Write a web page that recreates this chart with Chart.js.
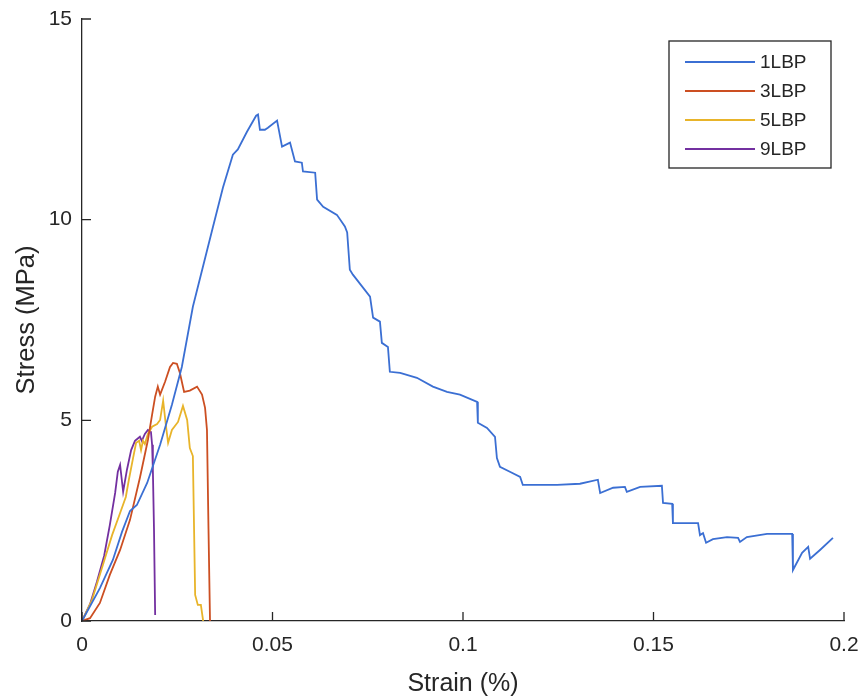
<!DOCTYPE html>
<html>
<head>
<meta charset="utf-8">
<script src="https://cdn.jsdelivr.net/npm/chart.js@4/dist/chart.umd.min.js"></script>
<style>
  html, body { margin:0; padding:0; background:#fff; }
  #wrap { width:860px; height:699px; position:relative; }
</style>
</head>
<body>
<div id="wrap"><canvas id="chart" width="860" height="699"></canvas></div>
<script>
// values
const labels = ['1LBP', '3LBP', '5LBP', '9LBP'];
const colors = ['#3b6fd3', '#cc4f22', '#e8b42a', '#7330a0'];

const strain1 = [0, 0.0047, 0.0081, 0.0105, 0.0126, 0.0144, 0.0171, 0.0205, 0.0236, 0.0262, 0.0291, 0.0344, 0.0370, 0.0396, 0.0409, 0.0433, 0.0457, 0.0462, 0.0467, 0.0480, 0.0488, 0.0512, 0.0525, 0.0546, 0.0559, 0.0577, 0.0580, 0.0612, 0.0617, 0.0633, 0.0669, 0.0690, 0.0696, 0.0703, 0.0711, 0.0756, 0.0764, 0.0782, 0.0787, 0.0803, 0.0808, 0.0835, 0.0879, 0.0921, 0.0958, 0.0992, 0.1037, 0.1039, 0.1063, 0.1084, 0.1089, 0.1097, 0.1123, 0.1150, 0.1157, 0.1247, 0.1307, 0.1354, 0.1360, 0.1394, 0.1425, 0.1430, 0.1465, 0.1522, 0.1525, 0.1549, 0.1551, 0.1617, 0.1622, 0.1630, 0.1638, 0.1656, 0.1693, 0.1722, 0.1727, 0.1745, 0.1798, 0.1864, 0.1866, 0.1890, 0.1906, 0.1911, 0.1937, 0.1971];
const stress1 = [0, 0.82, 1.52, 2.22, 2.74, 2.89, 3.44, 4.39, 5.39, 6.33, 7.83, 9.83, 10.80, 11.62, 11.75, 12.19, 12.59, 12.62, 12.24, 12.24, 12.29, 12.47, 11.82, 11.92, 11.45, 11.42, 11.20, 11.17, 10.50, 10.32, 10.12, 9.83, 9.68, 8.75, 8.63, 8.08, 7.56, 7.46, 6.93, 6.83, 6.21, 6.18, 6.06, 5.84, 5.71, 5.64, 5.46, 4.94, 4.81, 4.59, 4.06, 3.84, 3.72, 3.59, 3.39, 3.39, 3.42, 3.52, 3.19, 3.32, 3.34, 3.22, 3.34, 3.37, 2.94, 2.92, 2.44, 2.44, 2.14, 2.19, 1.95, 2.04, 2.09, 2.07, 1.97, 2.09, 2.17, 2.17, 1.27, 1.70, 1.85, 1.55, 1.77, 2.07];

const strain3 = [0, 0.0021, 0.0047, 0.0073, 0.0100, 0.0126, 0.0152, 0.0173, 0.0184, 0.0192, 0.0199, 0.0205, 0.0218, 0.0231, 0.0239, 0.0249, 0.0257, 0.0268, 0.0283, 0.0302, 0.0315, 0.0323, 0.0328, 0.0332, 0.0336];
const stress3 = [0, 0.07, 0.45, 1.15, 1.77, 2.52, 3.57, 4.51, 5.14, 5.59, 5.84, 5.64, 5.96, 6.33, 6.43, 6.41, 6.18, 5.71, 5.74, 5.84, 5.64, 5.31, 4.76, 2.30, 0];

const strain5 = [0, 0.0026, 0.0055, 0.0079, 0.0100, 0.0115, 0.0123, 0.0134, 0.0142, 0.0150, 0.0155, 0.0160, 0.0165, 0.0173, 0.0184, 0.0197, 0.0205, 0.0213, 0.0220, 0.0226, 0.0236, 0.0252, 0.0265, 0.0276, 0.0283, 0.0291, 0.0297, 0.0304, 0.0312, 0.0318];
const stress5 = [0, 0.52, 1.40, 2.14, 2.69, 3.09, 3.52, 4.06, 4.44, 4.49, 4.26, 4.49, 4.41, 4.66, 4.84, 4.91, 5.01, 5.49, 4.89, 4.44, 4.76, 4.96, 5.36, 5.01, 4.31, 4.11, 0.65, 0.40, 0.40, 0];

const strain9 = [0, 0.0021, 0.0039, 0.0058, 0.0073, 0.0087, 0.0094, 0.0100, 0.0105, 0.0108, 0.0118, 0.0129, 0.0139, 0.0152, 0.0157, 0.0165, 0.0173, 0.0181, 0.0184, 0.0186, 0.0189, 0.0192];
const stress9 = [0, 0.42, 0.97, 1.62, 2.39, 3.19, 3.72, 3.89, 3.47, 3.22, 3.77, 4.26, 4.49, 4.59, 4.49, 4.66, 4.76, 4.71, 4.39, 3.77, 2.27, 0.15];

const xTickLabels = ['0', '0.05', '0.1', '0.15', '0.2'];
const yTickLabels = ['0', '5', '10', '15'];

const FONT = '"Liberation Sans", Arial, Helvetica, sans-serif';
const INK = '#262626';

const zip = (xs, ys) => xs.map((x, i) => ({ x, y: ys[i] }));
const series = [[strain1, stress1], [strain3, stress3], [strain5, stress5], [strain9, stress9]];

const datasets = series.map(([xs, ys], i) => ({
  label: labels[i],
  data: zip(xs, ys),
  borderColor: colors[i],
  backgroundColor: colors[i],
  borderWidth: 1.8,
  pointRadius: 0,
  tension: 0,
  fill: false
}));

// MATLAB style: ticks pointing into the plot, boxed legend at top right
const matlabBits = {
  id: 'matlabBits',
  afterDraw(chart) {
    const { ctx, chartArea: a, scales: { x, y } } = chart;
    ctx.save();
    ctx.strokeStyle = INK;
    ctx.lineWidth = 1.3;
    ctx.beginPath();
    x.ticks.forEach(t => {
      const px = x.getPixelForValue(t.value);
      ctx.moveTo(px, a.bottom); ctx.lineTo(px, a.bottom - 9);
    });
    y.ticks.forEach(t => {
      const py = y.getPixelForValue(t.value);
      ctx.moveTo(a.left, py); ctx.lineTo(a.left + 9, py);
    });
    ctx.stroke();

    // legend
    const bx = 669, by = 41, bw = 162, bh = 127, rowH = 29;
    ctx.fillStyle = '#fff';
    ctx.fillRect(bx, by, bw, bh);
    ctx.strokeStyle = INK;
    ctx.lineWidth = 1.3;
    ctx.strokeRect(bx, by, bw, bh);
    ctx.font = '19px ' + FONT;
    ctx.textBaseline = 'middle';
    ctx.textAlign = 'left';
    chart.data.datasets.forEach((ds, i) => {
      const ry = by + 21 + i * rowH;
      ctx.strokeStyle = ds.borderColor;
      ctx.lineWidth = 1.8;
      ctx.beginPath();
      ctx.moveTo(bx + 16, ry); ctx.lineTo(bx + 86, ry);
      ctx.stroke();
      ctx.fillStyle = INK;
      ctx.fillText(ds.label, bx + 91, ry + 1);
    });
    ctx.restore();
  }
};

new Chart(document.getElementById('chart'), {
  type: 'line',
  data: { datasets },
  options: {
    responsive: false,
    animation: false,
    layout: { padding: { top: 19, right: 16, left: 0, bottom: 0 } },
    plugins: { legend: { display: false }, tooltip: { enabled: false } },
    scales: {
      x: {
        type: 'linear', min: 0, max: 0.2,
        afterFit: s => { s.height = 78; s.paddingLeft = 0; s.paddingRight = 0; },
        ticks: { stepSize: 0.05, padding: 12, color: INK, font: { family: FONT, size: 21 }, maxRotation: 0,
          callback: (v, i) => xTickLabels[i] },
        grid: { drawOnChartArea: false, drawTicks: false },
        border: { display: true, color: INK, width: 1.3 },
        title: { display: true, text: 'Strain (%)', color: INK, font: { family: FONT, size: 25 }, padding: { top: 0, bottom: 0 } }
      },
      y: {
        type: 'linear', min: 0, max: 15,
        afterFit: s => { s.width = 82; s.paddingTop = 0; s.paddingBottom = 0; },
        ticks: { stepSize: 5, padding: 10, color: INK, font: { family: FONT, size: 21 },
          callback: (v, i) => yTickLabels[i] },
        grid: { drawOnChartArea: false, drawTicks: false },
        border: { display: true, color: INK, width: 1.3 },
        title: { display: true, text: 'Stress (MPa)', color: INK, font: { family: FONT, size: 25.5 }, padding: { top: 12, bottom: 0 } }
      }
    }
  },
  plugins: [matlabBits]
});
</script>
</body>
</html>
